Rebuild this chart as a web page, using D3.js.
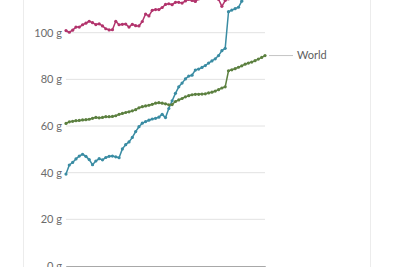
<!DOCTYPE html>
<html><head><meta charset="utf-8">
<script src="https://cdn.jsdelivr.net/npm/d3@7"></script>
<style>
html,body{margin:0;padding:0;background:#fff;overflow:hidden;}
svg{display:block;font-family:Lato,"Open Sans",sans-serif;}
</style></head>
<body><svg id="c" width="393" height="267"></svg>
<script>
const years = d3.range(1961, 2022);
const pink = [100.9,100.2,101.1,102.4,102.4,103.4,104.1,104.9,104.3,103.5,
  103.8,102.9,101.7,101.2,101.3,104.9,103.4,103.6,103.7,102.4,
  103.6,103.0,102.9,104.8,108.0,107.2,109.6,109.9,109.9,110.8,
  112.1,112.4,112.0,113.0,113.0,112.7,113.6,114.3,113.8,113.4,
  114.5,115.0,115.3,115.0,115.5,115.0,114.3,111.3,113.8,114.5,
  116.0,117.0,117.5,118.0,118.5,119.0,119.5,120.0,120.5,121.0,121.5];
const teal = [39.4,43.3,44.4,45.9,47.1,47.9,47.0,45.6,43.4,45.0,
  46.0,45.5,46.5,47.0,47.1,46.8,46.4,50.2,52.0,53.2,
  55.1,57.6,59.7,61.2,61.9,62.5,63.0,63.3,63.8,65.0,
  63.6,67.5,70.8,74.0,76.8,78.4,80.2,81.4,81.8,84.0,
  84.4,85.1,85.9,87.0,87.9,88.8,90.2,92.3,93.3,109.0,
  109.7,110.3,110.9,113.5,116.0,117.0,118.0,119.0,120.0,121.0,122.0];
const world = [61.1,61.8,62.0,62.3,62.4,62.6,62.7,62.9,63.3,63.7,
  63.5,63.7,64.0,64.0,64.1,64.4,65.0,65.4,65.8,66.1,
  66.5,67.0,67.8,68.3,68.6,68.9,69.3,69.8,70.0,69.8,
  69.5,69.1,69.2,70.5,71.2,71.8,72.5,73.0,73.4,73.6,
  73.6,73.7,73.8,74.2,74.5,75.0,75.6,76.3,76.8,83.7,
  84.1,84.6,85.2,85.8,86.5,87.0,87.4,88.0,88.7,89.4,90.2];
const yTicks = [0,20,40,60,80,100];
const xTicks = [1970,1980,1990,2000,2010,2020];
const worldLabel = "World";

const svg = d3.select("#c");
// frame borders
svg.append("line").attr("x1",23.5).attr("x2",23.5).attr("y1",0).attr("y2",267).attr("stroke","#ececec");
svg.append("line").attr("x1",370.5).attr("x2",370.5).attr("y1",0).attr("y2",267).attr("stroke","#ececec");

const x = d3.scaleLinear().domain([1961,2021]).range([66,265]);
const y = d3.scaleLinear().domain([0,100]).range([266,32.7]);

// gridlines
svg.append("g").selectAll("line").data(yTicks.filter(d=>d>0)).join("line")
  .attr("x1",66).attr("x2",265).attr("y1",d=>y(d)).attr("y2",d=>y(d))
  .attr("stroke","#e2e2e2").attr("stroke-width",1);

// y labels
svg.append("g").selectAll("text").data(yTicks).join("text")
  .attr("x",62).attr("y",d=>y(d)).attr("dy","0.35em").attr("text-anchor","end")
  .attr("font-size",11).attr("fill","#6b6b6b").text(d=>d+" g");

// x axis
const xa = svg.append("g").attr("transform","translate(0,266)")
  .call(d3.axisBottom(x).tickValues(xTicks).tickSize(4).tickFormat(""));
xa.select(".domain").attr("stroke","#a8a8a8");
xa.selectAll(".tick line").attr("stroke","#a8a8a8");

const line = d3.line().x((d,i)=>x(years[i])).y(d=>y(d));
const series = [
  {vals:pink, color:"#b2336c"},
  {vals:teal, color:"#3a8ca3"},
  {vals:world, color:"#5c8040"}
];
series.forEach(s=>{
  const g = svg.append("g");
  g.append("path").datum(s.vals).attr("d",line).attr("fill","none")
    .attr("stroke",s.color).attr("stroke-width",1.5).attr("stroke-linejoin","round");
  g.selectAll("circle").data(s.vals).join("circle")
    .attr("cx",(d,i)=>x(years[i])).attr("cy",d=>y(d)).attr("r",1.6).attr("fill",s.color);
});

// World label
const ly = y(world[world.length-1]);
svg.append("line").attr("x1",269).attr("x2",293).attr("y1",ly).attr("y2",ly).attr("stroke","#c4c4c4");
svg.append("text").attr("x",297).attr("y",ly).attr("dy","0.35em").attr("font-size",11)
  .attr("fill","#5e5e5e").text(worldLabel);
</script></body></html>
